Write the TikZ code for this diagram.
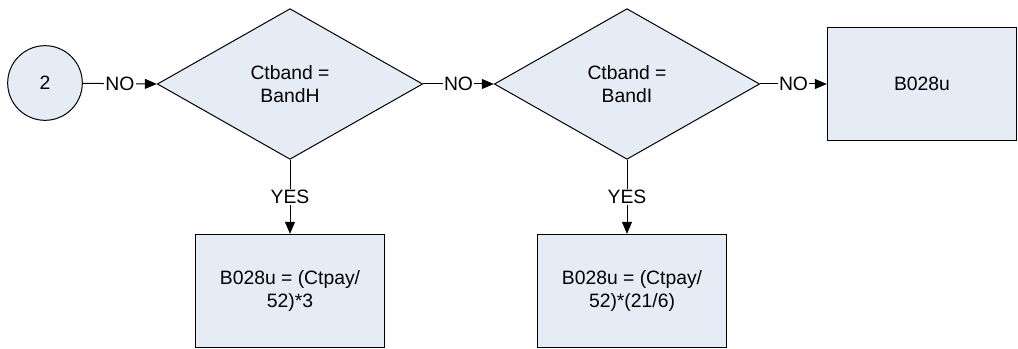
\documentclass[tikz,border=0pt]{standalone}
\usepackage{fontspec}
\setmainfont{Liberation Sans}
\usetikzlibrary{arrows.meta, shapes.geometric}
\definecolor{BoxFill}{RGB}{230,236,246}

\tikzset{
    flow/.style={draw, line width=0.75pt, fill=BoxFill, font=\fontsize{14.5}{17.5}\selectfont, align=center},
    decision/.style={flow, diamond, inner sep=0pt, minimum width=199pt, minimum height=113pt},
    process/.style={flow, rectangle, minimum width=142pt, minimum height=85pt},
    connector/.style={flow, circle, minimum size=56pt},
    arrow/.style={-{Triangle[length=9pt, width=7.5pt]}, line width=0.75pt},
    branch/.style={fill=white, inner sep=1pt, font=\fontsize{14.5}{17.5}\selectfont}
}

\begin{document}
\begin{tikzpicture}[x=0.75pt, y=-0.75pt]
    \useasboundingbox (0,0) rectangle (1018,349);

    % Connector and decisions
    \node[connector] (start) at (45,83) {2};
    \node[decision] (bandH) at (290,84) {Ctband =\\BandH};
    \node[decision] (bandI) at (627,84) {Ctband =\\BandI};

    % Results
    \node[process] (other) at (922,84) {B028u};
    \node[process] (payH) at (290,291) {B028u = (Ctpay/\\52)*3};
    \node[process] (payI) at (632,291) {B028u = (Ctpay/\\52)*(21/6)};

    % NO branches
    \draw[arrow] (start) -- (bandH.west) node[branch, midway] {NO};
    \draw[arrow] (bandH.east) -- (bandI.west) node[branch, midway] {NO};
    \draw[arrow] (bandI.east) -- (other.west) node[branch, midway] {NO};

    % YES branches
    \draw[arrow] (bandH.south) -- (payH.north) node[branch, midway] {YES};
    \draw[arrow] (bandI.south) -- (bandI.south |- payI.north) node[branch, midway] {YES};
\end{tikzpicture}
\end{document}
